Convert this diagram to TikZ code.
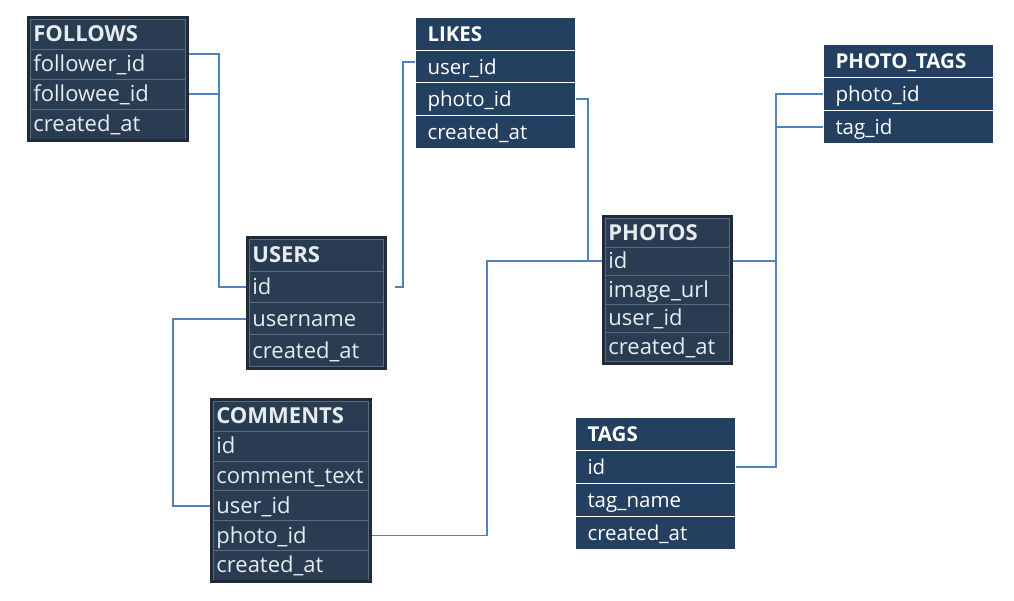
\documentclass[tikz,border=0pt]{standalone}
\usepackage{fontspec}
\setmainfont{Open Sans}
\usetikzlibrary{positioning,fit,backgrounds}
\definecolor{oldfill}{HTML}{293C52}
\definecolor{oldedge}{HTML}{1F2B38}
\definecolor{oldline}{HTML}{5A6D80}
\definecolor{oldtext}{HTML}{E6ECF0}
\definecolor{newfill}{HTML}{244060}
\definecolor{linkblue}{HTML}{4F81BD}
\tikzset{
  oldrow/.style={anchor=north west, draw=oldline, fill=oldfill, line width=0.8pt,
    text=oldtext, inner xsep=3pt, inner ysep=0pt, align=left,
    text height=17.5pt, text depth=2.5pt, font=\fontsize{22}{24}\selectfont},
  oldhead/.style={oldrow, font=\fontsize{22}{24}\selectfont\bfseries},
  newrow/.style={anchor=north west, draw=white, fill=newfill, line width=1pt,
    text=white, inner xsep=12pt, inner ysep=0pt, align=left,
    text height=17.5pt, text depth=2.5pt, font=\fontsize{20.5}{24}\selectfont},
  newhead/.style={newrow, font=\fontsize{20.5}{24}\selectfont\bfseries},
  tblframe/.style={draw=oldedge, line width=3pt, inner sep=1.2pt},
  link/.style={draw=linkblue, line width=1.9pt}
}

\begin{document}
\begin{tikzpicture}[x=1pt,y=-1pt]
  \useasboundingbox (0,0) rectangle (1014,601);

  % follows
  \node[oldhead, text width=149pt, minimum height=30pt] (follows) at (30,19) {FOLLOWS};
  \foreach \t [count=\i] in {follower\_id, followee\_id, created\_at}
    \node[oldrow, text width=149pt, minimum height=30pt] (follows-\i) at (30,{19+\i*30}) {\t};
  \node[tblframe, fit=(follows)(follows-3)] (followsbox) {};

  % users
  \node[oldhead, text width=128pt, minimum height=31.75pt] (users) at (249,239) {USERS};
  \foreach \t [count=\i] in {id, username, created\_at}
    \node[oldrow, text width=128pt, minimum height=31.75pt] (users-\i) at (249,{239+\i*31.75}) {\t};
  \node[tblframe, fit=(users)(users-3)] (usersbox) {};

  % comments
  \node[oldhead, text width=149pt, minimum height=29.8pt] (comments) at (213,401) {COMMENTS};
  \foreach \t [count=\i] in {id, comment\_text, user\_id, photo\_id, created\_at}
    \node[oldrow, text width=149pt, minimum height=29.8pt] (comments-\i) at (213,{401+\i*29.8}) {\t};
  \node[tblframe, fit=(comments)(comments-5)] (commentsbox) {};

  % photos
  \node[oldhead, text width=118pt, minimum height=28.6pt] (photos) at (605,218) {PHOTOS};
  \foreach \t [count=\i] in {id, image\_url, user\_id, created\_at}
    \node[oldrow, text width=118pt, minimum height=28.6pt] (photos-\i) at (605,{218+\i*28.6}) {\t};
  \node[tblframe, fit=(photos)(photos-4)] (photosbox) {};

  % likes
  \node[newhead, text width=136pt, minimum height=32.75pt] (likes) at (415,17) {LIKES};
  \foreach \t [count=\i] in {user\_id, photo\_id, created\_at}
    \node[newrow, text width=136pt, minimum height=32.75pt] (likes-\i) at (415,{17+\i*32.75}) {\t};

  % photo_tags
  \node[newhead, text width=146pt, minimum height=33pt] (ptags) at (823,44) {PHOTO\_TAGS};
  \foreach \t [count=\i] in {photo\_id, tag\_id}
    \node[newrow, text width=146pt, minimum height=33pt] (ptags-\i) at (823,{44+\i*33}) {\t};

  % tags
  \node[newhead, text width=136pt, minimum height=33pt] (tags) at (575,417) {TAGS};
  \foreach \t [count=\i] in {id, tag\_name, created\_at}
    \node[newrow, text width=136pt, minimum height=33pt] (tags-\i) at (575,{417+\i*33}) {\t};

  % bus lines
  \coordinate (fx) at (219,0);
  \coordinate (lx) at (403,0);
  \coordinate (px) at (588,0);
  \coordinate (cx) at (487,0);
  \coordinate (ux) at (173,0);
  \coordinate (tx) at (776,0);
  \coordinate (likesin) at ([yshift=5pt]likes-1.west);

  \begin{scope}[on background layer]
    \draw[link] ([yshift=10pt]follows-1.east) -| (fx |- users-1.west) -- (users-1.west);
    \draw[link] (follows-2.east) -- (follows-2.east -| fx);
    \draw[link] ([xshift=11pt]users-1.east) -| (lx |- likesin) -- (likesin);
    \draw[link] (likes-2.east) -| (px |- photos-1.west) -- (photos-1.west);
    \draw[link] (comments-4.east) -| (cx |- photos-1.west) -- (px |- photos-1.west);
    \draw[link] (users-2.west) -| (ux |- comments-3.west) -- (comments-3.west);
    \draw[link] (photos-1.east) -- (photos-1.east -| tx);
    \draw[link] (ptags-1.west) -| (tx |- tags-1.east) -- (tags-1.east);
    \draw[link] (ptags-2.west) -- (ptags-2.west -| tx);
  \end{scope}
\end{tikzpicture}
\end{document}
